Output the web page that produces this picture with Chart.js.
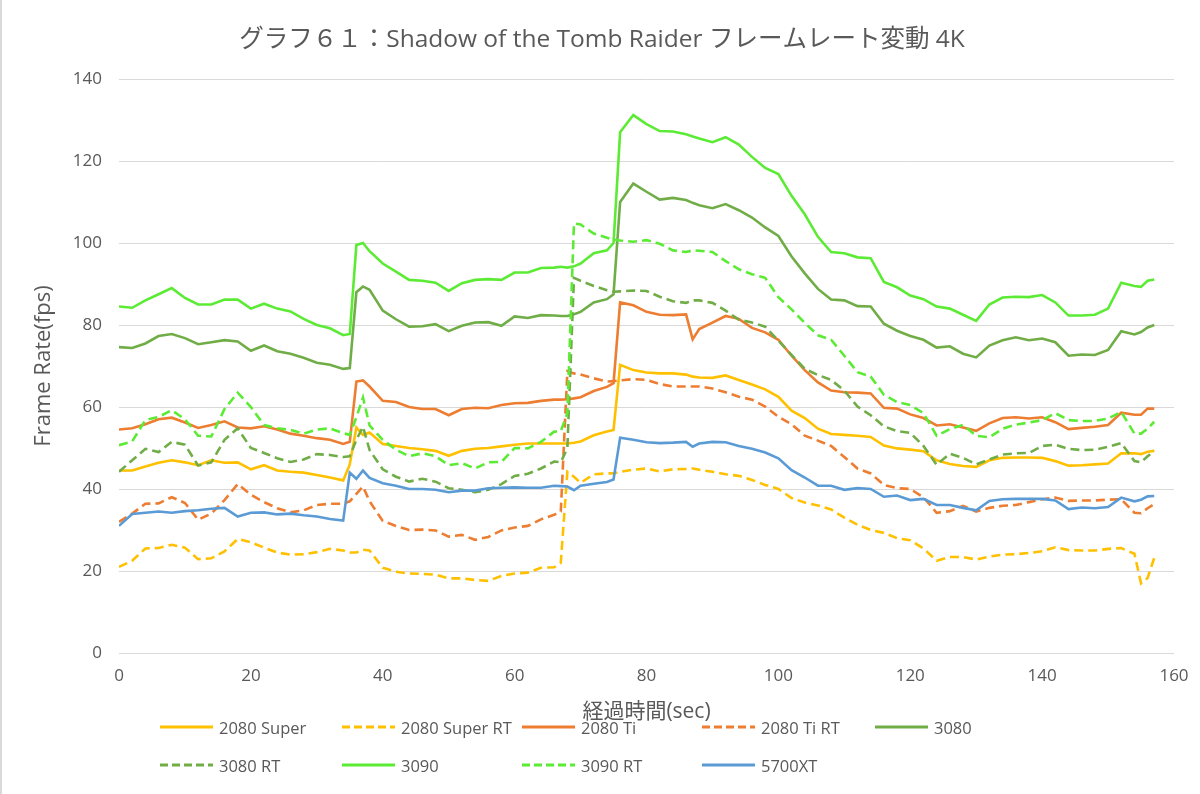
<!DOCTYPE html>
<html>
<head>
<meta charset="utf-8">
<script src="https://cdn.jsdelivr.net/npm/chart.js@4"></script>
<style>
  html, body { margin: 0; padding: 0; background: #fff; }
  #wrap { position: relative; width: 1200px; height: 794px; box-sizing: border-box; border-left: 2px solid #d9d9d9; }
  #metrics { position: absolute; left: 0; top: 0; }
  #legend { position: absolute; left: 0; top: 0; width: 1200px; height: 794px; pointer-events: none;
            font-family: "Open Sans", "Noto Sans CJK JP", sans-serif; font-size: 16.5px; color: #595959; }
  .item { position: absolute; height: 22px; display: flex; align-items: center; white-space: nowrap; }
  .item svg { margin-right: 6px; }
</style>
</head>
<body>
<div id="wrap">
  <canvas id="metrics" width="1200" height="794"></canvas>
  <div id="legend"></div>
</div>
<script>
// seconds on the x axis (shared by every series)
const secs = [0,2,4,6,8,10,12,14,16,18,20,22,24,26,28,30,32,34,35,36,37,38,40,42,44,46,48,50,52,54,56,58,60,62,64,66,67,68,69,70,72,74,75,76,78,80,82,84,86,87,88,90,92,94,96,98,100,102,104,106,108,110,112,114,116,118,120,122,124,126,128,130,132,134,136,138,140,142,144,146,148,150,152,154,155,156,157];

const fps2080Super = [44.5,44.5,45.5,46.4,47,46.5,45.8,47,46.4,46.5,44.8,45.8,44.5,44.2,44,43.4,42.8,42.1,46,55,53.2,53.8,51,50.5,50,49.7,49.3,48.1,49.3,49.8,50,50.4,50.8,51.1,51.1,51.1,51.1,51.1,51.3,51.6,53.1,54,54.4,70.3,69,68.4,68.2,68.2,67.9,67.4,67.2,67.1,67.7,66.6,65.5,64.3,62.5,59.1,57.3,54.7,53.4,53.2,53,52.7,50.6,49.9,49.6,49.2,47,46.1,45.6,45.4,47,47.6,47.7,47.7,47.6,46.8,45.7,45.8,46,46.2,48.7,48.7,48.5,49.1,49.3];
const fps2080SuperRT = [21,22.5,25.5,25.6,26.4,25.7,22.9,23.1,24.8,27.8,27,25.7,24.5,24,24.1,24.6,25.4,25,24.5,24.5,25.2,25,20.8,19.8,19.4,19.3,19.1,18.2,18.2,17.8,17.6,18.8,19.4,19.6,20.8,20.9,22,44.2,43,41.5,43.6,43.8,43.8,44.2,44.7,45,44.3,44.8,44.9,45,44.7,44.2,43.6,43.2,42.2,41,40,37.8,36.7,36,35,33,31.3,30,29.3,28,27.5,25.5,22.5,23.4,23.4,22.8,23.5,24,24.1,24.4,24.8,25.8,25.1,25,25,25.4,25.6,24.2,17,18.3,23.2];
const fps2080Ti = [54.5,54.8,55.8,57,57.4,56.2,54.9,55.6,56.5,55,54.8,55.3,54.5,53.5,53,52.4,52,51,51.5,66.2,66.5,65,61.5,61.2,60,59.5,59.5,58,59.5,59.8,59.7,60.5,60.9,61,61.5,61.8,61.8,61.9,62.1,62.4,63.9,64.9,65.8,85.5,84.8,83.2,82.5,82.4,82.6,76.5,79,80.6,82.2,81.5,79.3,78.2,76.4,72.5,69,66,64,63.6,63.5,63.3,59.8,59.6,58.2,57.3,55.5,55.8,55,54.2,56,57.3,57.5,57.2,57.5,56.3,54.6,54.9,55.2,55.6,58.6,58.1,58.1,59.6,59.6];
const fps2080TiRT = [32,34,36.4,36.5,38,36.6,32.5,34,37.3,41.2,38.6,36.8,35.3,34.3,34.8,36.1,36.4,36.4,37,38.8,40.6,37,32.2,31,30,30.1,29.9,28.4,28.8,27.6,28.3,29.9,30.6,31,32.6,33.7,34.5,68.7,68.2,67.9,67,66.2,66.3,66.5,66.8,66.6,65.6,65,65,65,65,64.5,63.6,62.5,61.8,60.1,57.6,55.8,53,51.8,50.5,47.8,45,43.8,41,40.2,40,38,34.2,34.6,35.9,34.5,35.4,35.9,36.1,36.8,37.5,37.9,37.1,37.2,37.2,37.4,37.5,34.2,34.1,35.3,36.3];
const fps3080 = [74.6,74.4,75.5,77.3,77.8,76.8,75.3,75.8,76.3,76,73.7,75,73.6,73,72,70.8,70.3,69.3,69.5,88,89.4,88.6,83.5,81.4,79.6,79.7,80.2,78.5,79.8,80.6,80.7,79.8,82.1,81.7,82.4,82.3,82.2,82.2,82.6,83.2,85.5,86.3,87.5,110,114.5,112.5,110.6,111,110.5,109.8,109.2,108.5,109.5,108,106.2,103.8,101.7,96.7,92.6,88.8,86.2,86,84.6,84.5,80.3,78.6,77.3,76.4,74.5,74.8,73,72.1,75,76.3,77,76.3,76.7,75.8,72.5,72.8,72.7,73.9,78.5,77.7,78.3,79.4,80];
const fps3080RT = [44.2,47,49.8,49,51.5,50.8,45.7,46.5,52,54.8,50,48.8,47.5,46.6,47.2,48.5,48.3,47.8,48,52,55.2,49.5,44.8,43,41.8,42.5,41.8,40.2,39.8,39.2,39.8,41.2,43.2,43.7,45,46.7,46.5,50,91.5,90.8,89.5,88.5,88.1,88.2,88.4,88.3,86.9,85.8,85.4,86,86,85.4,83.5,81.3,80.6,79.6,76.2,72.7,69.3,67.8,66.6,64,60.1,58,55.3,54.1,53.7,50.5,45.9,48.6,47.6,46,47.2,48.4,48.7,48.8,50.5,50.8,49.8,49.5,49.6,50.3,51.2,46.8,46.5,48,49.3];
const fps3090 = [84.5,84.2,86,87.5,89,86.6,85,85,86.2,86.2,84,85.2,84,83.3,81.5,80,79.2,77.5,77.8,99.5,100,98,95,93,91,90.8,90.3,88.3,90.2,91,91.2,91,92.8,92.8,93.9,94,94.2,94,94.3,95,97.5,98.2,100,127,131.2,129,127.3,127.2,126.5,126,125.5,124.6,125.8,124,121,118.3,116.8,111.5,107,101.5,97.8,97.5,96.5,96.3,90.5,89.2,87.2,86.3,84.5,84,82.5,81,85,86.7,86.9,86.8,87.3,85.5,82.3,82.3,82.5,84,90.3,89.5,89.3,90.8,91.1];
const fps3090RT = [50.7,51.6,56.8,57.6,59.2,57,53,52.8,59.5,63.5,60,55.6,54.8,54.4,53.5,54.5,54.8,53.6,53.2,57.5,62.3,55.5,52,49.6,48,48.7,48,45.8,46.3,45,46.5,46.6,50,49.9,51.5,54,54.1,58.5,104.8,104.5,102.3,101.3,100.8,100.6,100.3,100.7,99.8,98.2,97.8,98.2,98.1,97.8,95.6,93.6,92.4,91.5,86.8,83.8,80.5,77.5,76.4,72.5,68.5,67.4,63,61.2,60.5,58.5,53,54.6,55.6,53,52.6,54.7,55.7,56.2,56.8,58.5,56.8,56.6,56.6,57.2,58.8,53.5,53.5,54.7,56.4];
const fps5700XT = [31,33.9,34.2,34.5,34.2,34.6,34.8,35.2,35.4,33.3,34.2,34.3,33.8,34,33.6,33.3,32.7,32.3,44,42.5,44.5,42.7,41.4,40.8,40,40,39.8,39.2,39.6,39.6,40.2,40.3,40.4,40.3,40.3,40.8,40.7,40.6,39.7,40.8,41.3,41.7,42.3,52.5,52,51.4,51.2,51.3,51.5,50.3,51.1,51.5,51.4,50.5,49.8,48.9,47.5,44.6,42.8,40.8,40.8,39.8,40.2,40,38.1,38.4,37.3,37.6,36.1,36.1,35.4,34.8,37.1,37.5,37.6,37.6,37.6,37.2,35.1,35.5,35.3,35.6,37.9,37,37.4,38.2,38.3];

const seriesNames = ["2080 Super", "2080 Super RT", "2080 Ti", "2080 Ti RT", "3080", "3080 RT", "3090", "3090 RT", "5700XT"];
const seriesValues = [fps2080Super, fps2080SuperRT, fps2080Ti, fps2080TiRT, fps3080, fps3080RT, fps3090, fps3090RT, fps5700XT];
const seriesColors = ["#FFC000", "#FFC000", "#ED7D31", "#ED7D31", "#70AD47", "#70AD47", "#5CEB34", "#5CEB34", "#5B9BD5"];
const seriesDashed = [false, true, false, true, false, true, false, true, false];

const xTicks = [0, 20, 40, 60, 80, 100, 120, 140, 160];
const yTicks = [0, 20, 40, 60, 80, 100, 120, 140];

const titleText = "グラフ６１：Shadow of the Tomb Raider フレームレート変動 4K";
const fontFamily = '"Open Sans", "Noto Sans CJK JP", sans-serif';
const gray = "#595959";

datasets = seriesNames.map((name, i) => {
    return {
        label: name,
        data: secs.map((s, j) => {return {x: s, y: seriesValues[i][j]}}),
        borderColor: seriesColors[i],
        backgroundColor: seriesColors[i],
        borderWidth: 2.6,
        borderDash: seriesDashed[i] ? [9, 5] : [],
        pointRadius: 0,
        tension: 0,
        fill: false,
        order: seriesNames.length - i
    }
});

const ctx = document.getElementById('metrics');
const chart = new Chart(ctx, {
    type: 'line',
    data: { datasets: datasets },
    options: {
        responsive: false,
        animation: false,
        // equal side padding keeps the title centred on the page
        layout: { padding: { left: 28, right: 28, top: 0, bottom: 66 } },
        scales: {
            x: {
                type: 'linear',
                min: 0,
                max: 160,
                afterBuildTicks: (scale) => { scale.ticks = xTicks.map(v => ({value: v})); },
                afterFit: (scale) => { scale.height = 75; },
                grid: { display: false, drawTicks: false },
                border: { display: false },
                ticks: { color: gray, padding: 13, font: { family: fontFamily, size: 17 } },
                title: {
                    display: true,
                    text: "経過時間(sec)",
                    color: gray,
                    padding: { top: 0, bottom: 3 },
                    font: { family: fontFamily, size: 21 }
                }
            },
            y: {
                min: 0,
                max: 140,
                afterBuildTicks: (scale) => { scale.ticks = yTicks.map(v => ({value: v})); },
                afterFit: (scale) => { scale.width = 89; },
                grid: { color: "#d9d9d9", lineWidth: 1, drawTicks: false },
                border: { display: false },
                ticks: { color: gray, padding: 17, font: { family: fontFamily, size: 17 } },
                title: {
                    display: true,
                    text: "Frame Rate(fps)",
                    color: gray,
                    padding: { top: 1, bottom: 0 },
                    font: { family: fontFamily, size: 22 }
                }
            }
        },
        plugins: {
            legend: { display: false },
            tooltip: { enabled: false },
            title: {
                display: true,
                text: titleText,
                color: gray,
                padding: { top: 25, bottom: 24.6 },
                font: { family: fontFamily, size: 24.5, weight: 'normal' }
            }
        }
    }
});

// legend laid out as a grid like the original
const legendCols = [158, 340, 520, 700, 873];
const legendRows = [728, 766];
const legend = document.getElementById('legend');
seriesNames.forEach((name, i) => {
    const col = i % 5, row = Math.floor(i / 5);
    const item = document.createElement('div');
    item.className = 'item';
    item.style.left = legendCols[col] + 'px';
    item.style.top = (legendRows[row] - 12) + 'px';
    const dash = seriesDashed[i] ? ' stroke-dasharray="8,4"' : '';
    item.innerHTML = '<svg width="53" height="6"><line x1="0" y1="3" x2="53" y2="3" stroke="' +
        seriesColors[i] + '" stroke-width="3"' + dash + '/></svg><span>' + name + '</span>';
    legend.appendChild(item);
});
</script>
</body>
</html>
